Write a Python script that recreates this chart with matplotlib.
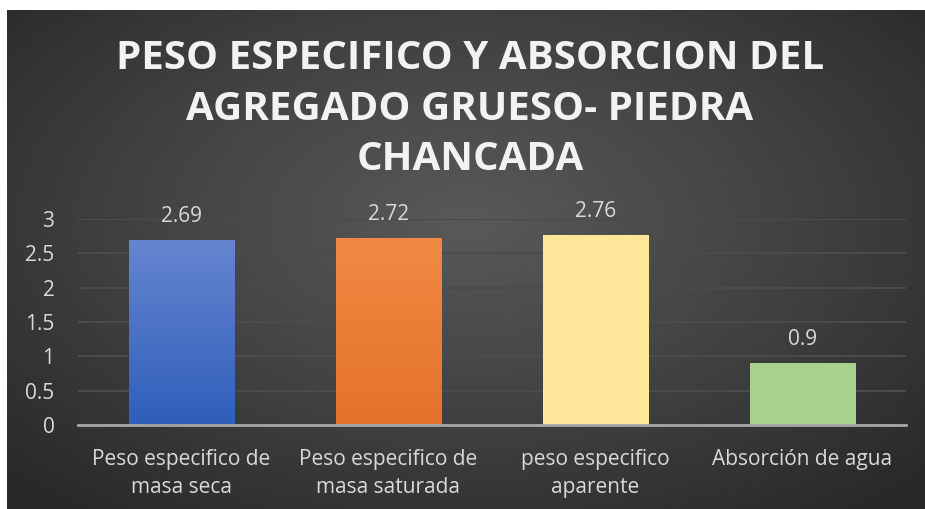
import numpy as np
import matplotlib
matplotlib.use('Agg')
import matplotlib.pyplot as plt
from matplotlib.colors import LinearSegmentedColormap

categories = ['Peso especifico de\nmasa seca', 'Peso especifico de\nmasa saturada',
              'peso especifico\naparente', 'Absorción de agua']
values = [2.69, 2.72, 2.76, 0.9]
labels = ['2.69', '2.72', '2.76', '0.9']
yticks = [0, 0.5, 1, 1.5, 2, 2.5, 3]
ytick_labels = ['0', '0.5', '1', '1.5', '2', '2.5', '3']
title = 'PESO ESPECIFICO Y ABSORCION DEL\nAGREGADO GRUESO- PIEDRA\nCHANCADA'

# top colour / bottom colour of each bar
bar_colors = [('#6585cf', '#2f5fba'), ('#f08a43', '#e5722a'),
              ('#ffe699', '#ffe699'), ('#a9d18e', '#a9d18e')]

plt.rcParams['font.family'] = ['Open Sans', 'DejaVu Sans']
txt = '#d9d9d9'

fig = plt.figure(figsize=(9.25, 5.09), dpi=100)
fig.patch.set_facecolor('white')

# dark radial background
bg = fig.add_axes([7 / 925, 0, 918 / 925, 499 / 509])
yy, xx = np.mgrid[-1:1:300j, -1:1:500j]
r = np.sqrt((xx * 0.95) ** 2 + ((yy + 0.15) * 0.9) ** 2)
bg_cmap = LinearSegmentedColormap.from_list('bg', ['#595959', '#424242', '#282828'])
bg.imshow(np.clip(r, 0, 1.35), cmap=bg_cmap, aspect='auto', extent=[0, 1, 0, 1])
bg.set_axis_off()

ax = fig.add_axes([78 / 925, 1 - 425 / 509, 828 / 925, 206 / 509])
ax.set_facecolor('none')
x = np.arange(len(categories))
bars = ax.bar(x, values, width=0.51, color='none', zorder=3)
for b, (c_top, c_bot) in zip(bars, bar_colors):
    cm = LinearSegmentedColormap.from_list('g', [c_bot, c_top])
    grad = np.linspace(0, 1, 100).reshape(-1, 1)
    x0, y0 = b.get_x(), b.get_y()
    im = ax.imshow(grad, cmap=cm, aspect='auto', origin='lower',
                   extent=[x0, x0 + b.get_width(), y0, y0 + b.get_height()], zorder=3)
    im.set_clip_path(b)

for xi, v, lab in zip(x, values, labels):
    ax.annotate(lab, (xi, v), xytext=(0, 17), textcoords='offset points',
                ha='center', va='center', color=txt, fontsize=15)

ax.set_xlim(-0.5, len(categories) - 0.5)
ax.set_ylim(0, 3)
ax.set_yticks(yticks)
ax.set_yticklabels(ytick_labels)
ax.set_xticks(x)
ax.set_xticklabels(categories, linespacing=1.45)
ax.grid(axis='y', color='#4b4b4b', linewidth=1.5, zorder=0)
ax.set_axisbelow(True)
for s in ['top', 'right', 'left']:
    ax.spines[s].set_visible(False)
ax.spines['bottom'].set_color('#a6a6a6')
ax.spines['bottom'].set_linewidth(2)
ax.spines['bottom'].set_zorder(4)
ax.tick_params(axis='both', length=0, colors=txt, labelsize=15)
ax.tick_params(axis='y', pad=17)
ax.tick_params(axis='x', pad=17)

fig.text(470 / 925, 1 - 109 / 509, title, ha='center', va='center', color='#f2f2f2',
         fontsize=29, fontweight='bold', linespacing=1.37)

fig.savefig('out.png', dpi=100)
